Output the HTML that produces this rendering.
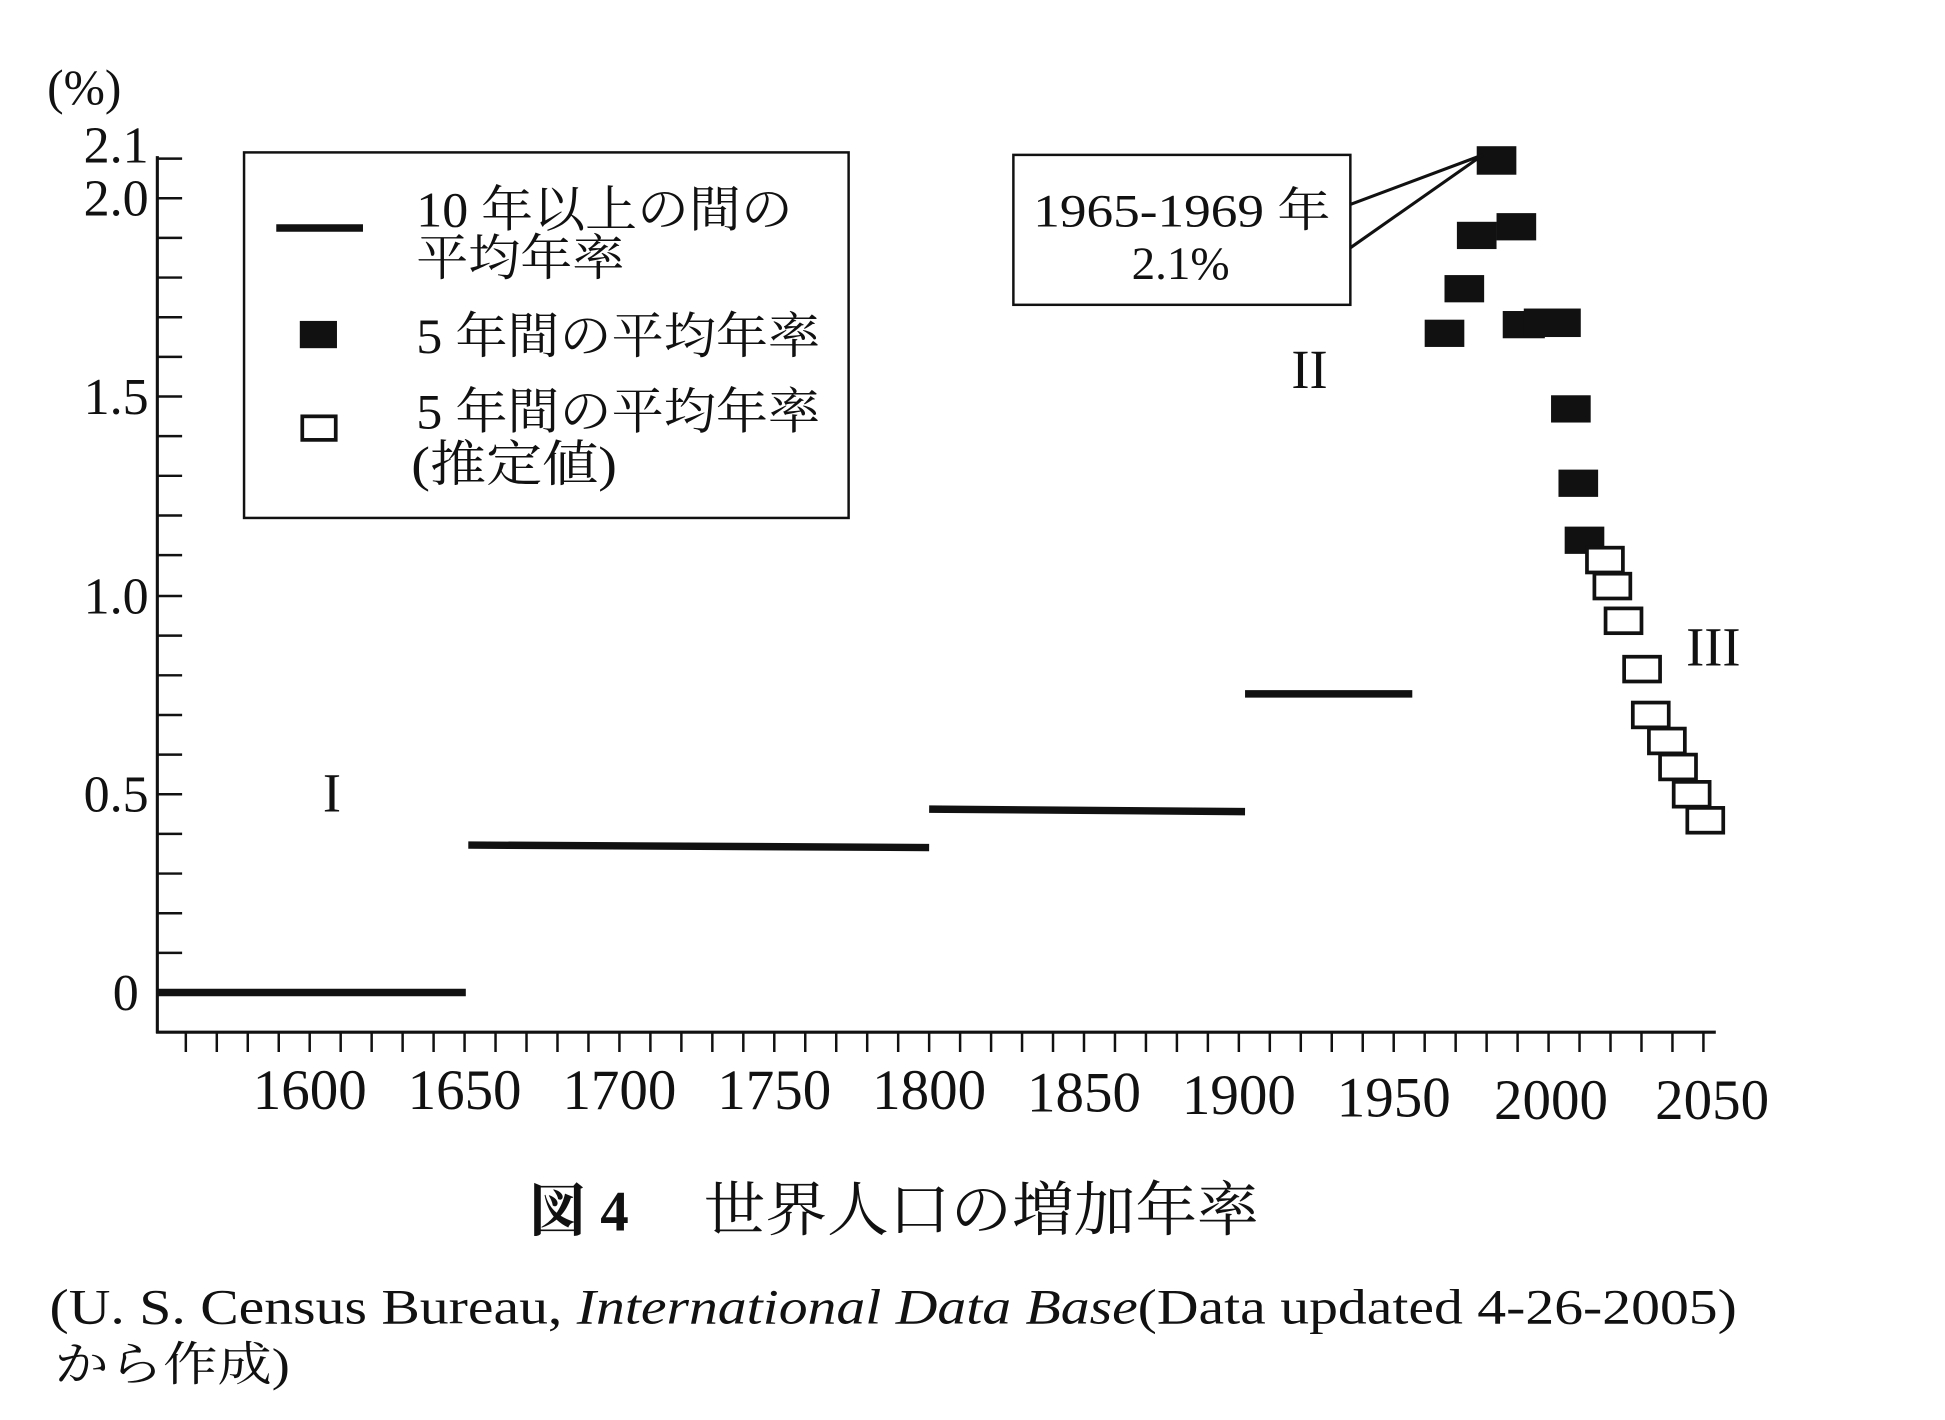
<!DOCTYPE html>
<html><head><meta charset="utf-8"><style>
html,body{margin:0;padding:0;background:#fff;}
svg{display:block;}
text{font-family:"Liberation Serif","Noto Serif CJK SC","Noto Sans CJK JP",serif;fill:#111;}
</style></head><body>
<svg width="1945" height="1420" viewBox="0 0 1570 1146" preserveAspectRatio="none" xmlns="http://www.w3.org/2000/svg">
<rect width="1570" height="1146" fill="#fff"/>
<g stroke="#111" stroke-width="2.5" fill="none">
<line x1="127" y1="126" x2="127" y2="834"/>
<line x1="126" y1="833" x2="1385" y2="833"/>
</g>
<g stroke="#111" stroke-width="2">
<path d="M127 128h20M127 160h20M127 192h20M127 224h20M127 256h20M127 288h20M127 320h20M127 352h20M127 384h20M127 416h20M127 448h20M127 481h20M127 513h20M127 545h20M127 577h20M127 609h20M127 641h20M127 673h20M127 705h20M127 737h20M127 769h20M127 801h20"/>
<path d="M150 833v16M175 833v16M200 833v16M225 833v16M250 833v16M275 833v16M300 833v16M325 833v16M350 833v16M375 833v16M400 833v16M425 833v16M450 833v16M475 833v16M500 833v16M525 833v16M550 833v16M575 833v16M600 833v16M625 833v16M650 833v16M675 833v16M700 833v16M725 833v16M750 833v16M775 833v16M800 833v16M825 833v16M850 833v16M875 833v16M900 833v16M925 833v16M950 833v16M975 833v16M1000 833v16M1025 833v16M1050 833v16M1075 833v16M1100 833v16M1125 833v16M1150 833v16M1175 833v16M1200 833v16M1225 833v16M1250 833v16M1275 833v16M1300 833v16M1325 833v16M1350 833v16M1375 833v16"/>
</g>
<g font-size="42" text-anchor="end">
<text x="120" y="131">2.1</text>
<text x="120" y="174">2.0</text>
<text x="120" y="334">1.5</text>
<text x="120" y="495">1.0</text>
<text x="120" y="655">0.5</text>
<text x="112" y="815">0</text>
</g>
<text x="38" y="84" font-size="40">(%)</text>
<g font-size="46" text-anchor="middle">
<text x="250" y="895">1600</text><text x="375" y="895">1650</text><text x="500" y="895">1700</text>
<text x="625" y="895">1750</text><text x="750" y="895">1800</text><text x="875" y="897">1850</text>
<text x="1000" y="899">1900</text><text x="1125" y="901">1950</text><text x="1252" y="903">2000</text>
<text x="1382" y="903">2050</text>
</g>
<g stroke="#111" stroke-width="6">
<line x1="127" y1="801" x2="376" y2="801"/>
<line x1="378" y1="682" x2="750" y2="684"/>
<line x1="750" y1="653" x2="1005" y2="655"/>
<line x1="1005" y1="560" x2="1140" y2="560"/>
</g>
<g fill="#111">
<rect x="1150" y="258" width="32" height="22"/>
<rect x="1166" y="222" width="32" height="22"/>
<rect x="1176" y="179" width="32" height="22"/>
<rect x="1192" y="118" width="32" height="23"/>
<rect x="1208" y="172" width="32" height="22"/>
<rect x="1213" y="251" width="34" height="22"/>
<rect x="1230" y="249" width="46" height="23"/>
<rect x="1252" y="319" width="32" height="22"/>
<rect x="1258" y="379" width="32" height="22"/>
<rect x="1263" y="425" width="32" height="22"/>
</g>
<g fill="#fff" stroke="#111" stroke-width="3">
<rect x="1281" y="442" width="29" height="20"/>
<rect x="1287" y="463" width="29" height="20"/>
<rect x="1296" y="491" width="29" height="20"/>
<rect x="1311" y="530" width="29" height="20"/>
<rect x="1318" y="567" width="29" height="20"/>
<rect x="1331" y="588" width="29" height="20"/>
<rect x="1340" y="609" width="29" height="20"/>
<rect x="1351" y="631" width="29" height="20"/>
<rect x="1362" y="652" width="29" height="20"/>
</g>
<rect x="818" y="125" width="272" height="121" fill="#fff" stroke="#111" stroke-width="2"/>
<g stroke="#111" stroke-width="2.5"><line x1="1090" y1="165" x2="1197" y2="125"/><line x1="1090" y1="200" x2="1197" y2="125"/></g>
<text x="834" y="183" font-size="38" textLength="240" lengthAdjust="spacingAndGlyphs">1965-1969 年</text>
<text x="953" y="225" font-size="38" text-anchor="middle">2.1%</text>
<text x="268" y="655" font-size="44" text-anchor="middle">I</text>
<text x="1057" y="313" font-size="44" text-anchor="middle">II</text>
<text x="1383" y="537" font-size="44" text-anchor="middle">III</text>
<rect x="197" y="123" width="488" height="295" fill="#fff" stroke="#111" stroke-width="2"/>
<line x1="223" y1="184" x2="293" y2="184" stroke="#111" stroke-width="6"/>
<rect x="242" y="259" width="30" height="22" fill="#111"/>
<rect x="244" y="336" width="27" height="19" fill="#fff" stroke="#111" stroke-width="3"/>
<g font-size="40">
<text x="336" y="183" textLength="304" lengthAdjust="spacingAndGlyphs">10 年以上の間の</text>
<text x="336" y="222" textLength="168" lengthAdjust="spacingAndGlyphs">平均年率</text>
<text x="336" y="285" textLength="326" lengthAdjust="spacingAndGlyphs">5 年間の平均年率</text>
<text x="336" y="346" textLength="326" lengthAdjust="spacingAndGlyphs">5 年間の平均年率</text>
<text x="332" y="388" textLength="166" lengthAdjust="spacingAndGlyphs">(推定値)</text>
</g>
<text x="427" y="993" font-size="46" font-weight="bold" font-family="Liberation Sans, Noto Sans CJK JP, sans-serif">図 4</text>
<text x="568" y="993" font-size="48" textLength="448" lengthAdjust="spacingAndGlyphs">世界人口の増加年率</text>
<text x="40" y="1068" font-size="40" textLength="1362" lengthAdjust="spacingAndGlyphs">(U. S. Census Bureau, <tspan font-style="italic">International Data Base</tspan>(Data updated 4-26-2005)</text>
<text x="44" y="1114" font-size="38" textLength="190" lengthAdjust="spacingAndGlyphs">から作成)</text>
</svg>
</body></html>
